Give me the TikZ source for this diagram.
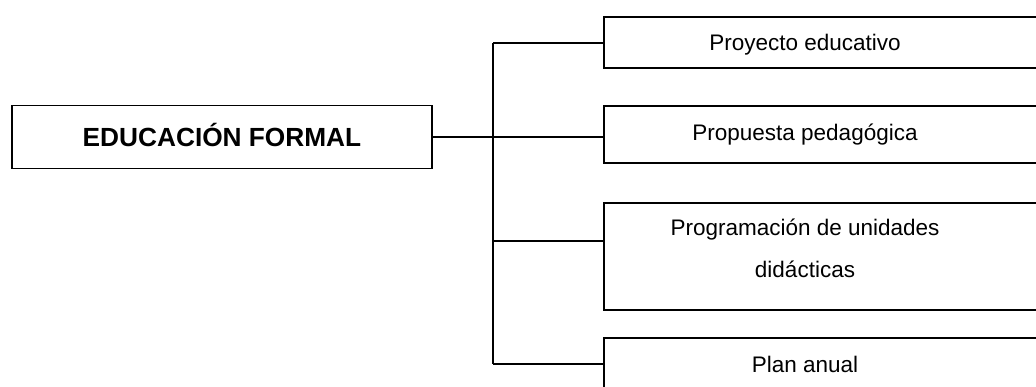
\documentclass[tikz,border=0pt]{standalone}
\usepackage{fontspec}
\setmainfont{Liberation Sans}
\usetikzlibrary{positioning}

\begin{document}
\begin{tikzpicture}[x=0.5333pt,y=-0.5333pt,
  box/.style={rectangle,draw=black,line width=0.7pt,inner sep=0pt,minimum width=232.5pt},
  label/.style={anchor=base,align=center,font=\fontsize{12}{22.4}\selectfont},
  link/.style={draw=black,line width=0.7pt}]

  \useasboundingbox (0,0) rectangle (1036,387);
  \clip (0,0) rectangle (1036,387);

  % main box
  \node(formal)[box,minimum width=224pt,minimum height=33.6pt] at (222,137) {};
  \node(formaltxt)[label,font=\fontsize{14}{16}\selectfont\bfseries] at (222,147) {EDUCACIÓN FORMAL};

  % right boxes (right edge runs off the page)
  \node(proyecto)[box,minimum height=27.2pt] at (822,42.5) {};
  \node(propuesta)[box,minimum height=30.4pt] at (822,134.5) {};
  \node(programa)[box,minimum height=57.07pt] at (822,256.5) {};
  \node(plan)[box,minimum height=33.07pt] at (822,369) {};

  \node(proyectotxt)[label] at (805,51) {Proyecto educativo};
  \node(propuestatxt)[label] at (805,141) {Propuesta pedagógica};
  \node(programatxt)[label] at (805,278) {Programación de unidades\\didácticas};
  \node(plantxt)[label] at (805,373) {Plan anual};

  % connectors
  \coordinate(trunk) at (493,137);
  \draw[link] (formal.east) -- (trunk);
  \draw[link] (trunk |- 0,43) -- (trunk |- 0,364);
  \draw[link] (trunk |- 0,43) -- (proyecto.west |- 0,43);
  \draw[link] (trunk) -- (propuesta.west |- 0,137);
  \draw[link] (trunk |- 0,241) -- (programa.west |- 0,241);
  \draw[link] (trunk |- 0,364) -- (plan.west |- 0,364);
\end{tikzpicture}
\end{document}
